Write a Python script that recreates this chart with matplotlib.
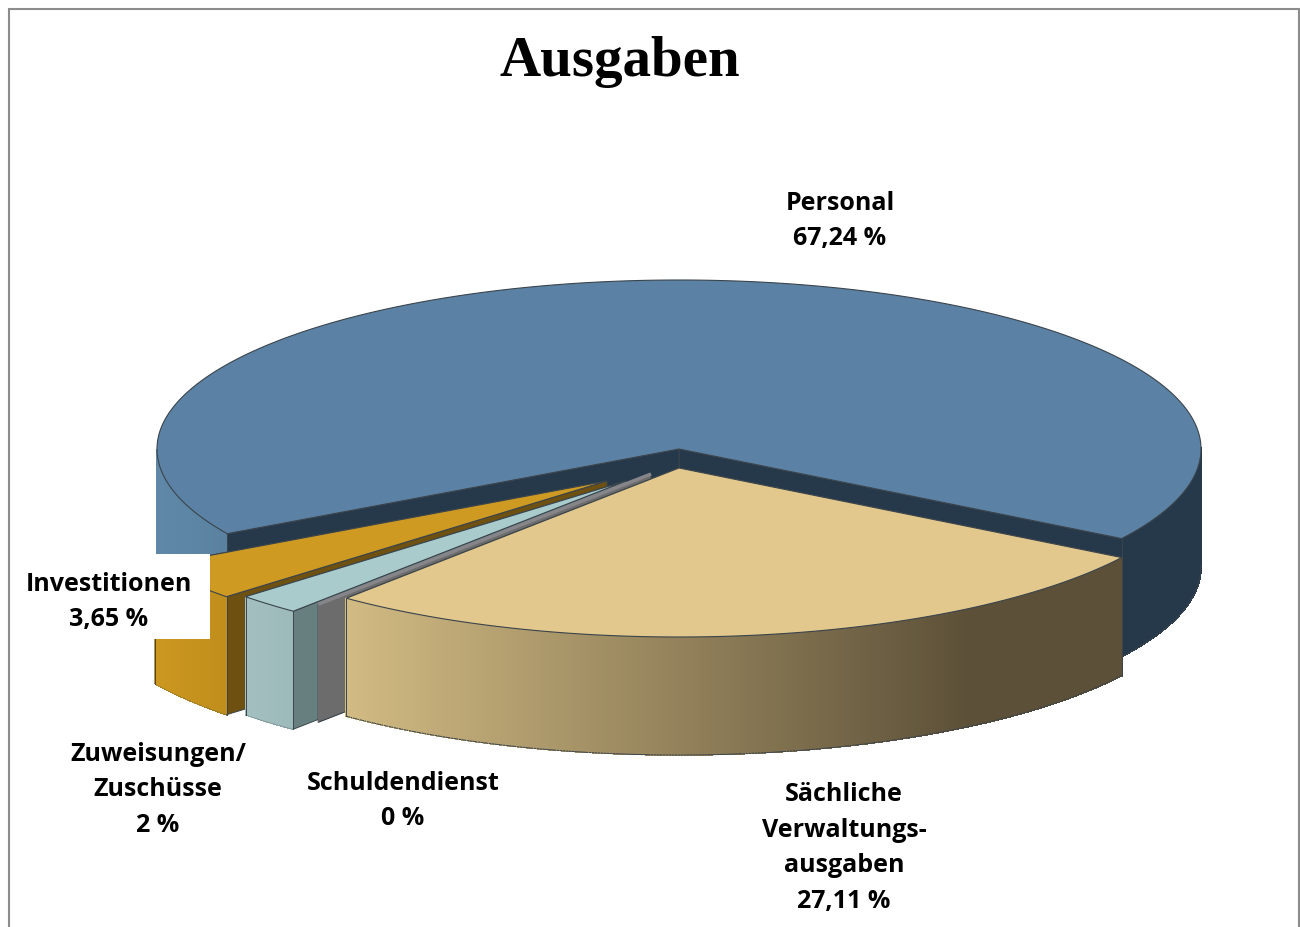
#import
import matplotlib
matplotlib.use("Agg")
import matplotlib.pyplot as plt
import numpy as np
from matplotlib.colors import to_rgb
from matplotlib.patches import Polygon, Rectangle

#data
title = "Ausgaben"
categories = ["Personal", "Investitionen", "Zuweisungen/\nZuschüsse", "Schuldendienst", "Sächliche\nVerwaltungs-\nausgaben"]
values = [67.24, 3.65, 2, 0, 27.11]

#style
start_angle = -32
cx, cy = 679, 450
rx, ry = 522, 169
depth = 118
shift_x = [0, -72, -53, -28, 0]
shift_y = [0, 32, 32, 25, 19]
top_colors = ["#5b82a4", "#cf9a22", "#a9cbcc", "#85858a", "#e2c88c"]
face_colors = ["#26394a", "#6e5010", "#67807f", "#6c6c6c", "#5c5038"]
wall_left = ["#5f88a8", "#cd9820", "#a3bfbf", "#6c6c6c", "#d2bb83"]
wall_right = ["#26394a", "#c08e1c", "#9dbaba", "#6c6c6c", "#5c5038"]
grad_x0 = [157, 153, 246, 317, 346]
grad_x1 = [966, 226, 295, 346, 970]
label_x = [840, 109, 158, 403, 844]
label_y = [221, 602, 790, 801, 848]

def point(x0, y0, a):
    return x0 + rx*np.cos(np.radians(a)), y0 - ry*np.sin(np.radians(a))

def mix(c1, c2, t):
    c1 = np.array(to_rgb(c1))
    c2 = np.array(to_rgb(c2))
    return tuple(c1 + (c2-c1)*t)

def draw_slice(ax, x0, y0, a0, a1, i):
    line = "#3a444c"
    z = 1 + i
    #cut faces
    for a in [a0, a1]:
        x, y = point(x0, y0, a)
        ax.add_patch(Polygon([(x0, y0), (x, y), (x, y+depth), (x0, y0+depth)], closed=True,
                             fc=face_colors[i], ec=line, lw=0.7, zorder=z))
    #outer wall, only the front is seen
    angles = np.linspace(a0, a1, 300)
    for k in range(len(angles)-1):
        m = (angles[k]+angles[k+1])/2
        if np.sin(np.radians(m)) >= 0:
            continue
        x1, y1 = point(x0, y0, angles[k])
        x2, y2 = point(x0, y0, angles[k+1])
        t = np.clip((((x1+x2)/2)-grad_x0[i])/(grad_x1[i]-grad_x0[i]), 0, 1)
        col = mix(wall_left[i], wall_right[i], t)
        ax.add_patch(Polygon([(x1, y1), (x2, y2), (x2, y2+depth), (x1, y1+depth)], closed=True,
                             fc=col, ec=col, lw=0.5, antialiased=False, zorder=z))
        ax.plot([x1, x2], [y1+depth, y2+depth], color=line, lw=0.7, zorder=z)
    if a1 > a0:
        for a in [a0, a1]:
            x, y = point(x0, y0, a)
            if np.sin(np.radians(a)) < 0:
                ax.plot([x, x], [y, y+depth], color=line, lw=0.7, zorder=z)
    #top
    xs, ys = point(x0, y0, angles)
    ax.add_patch(Polygon(np.column_stack([np.r_[x0, xs], np.r_[y0, ys]]), closed=True,
                         fc=top_colors[i], ec=line if a1 > a0 else top_colors[i],
                         lw=0.8 if a1 > a0 else 2.5, zorder=z))

#chart
fig = plt.figure(figsize=(13, 9.28), dpi=100)
ax = fig.add_axes([0, 0, 1, 1])
ax.set_xlim(0, 1300)
ax.set_ylim(928, 0)
ax.axis("off")

ax.add_patch(Rectangle((9, 10), 1290, 930, fc="white", ec="#8c8c8c", lw=1.5, zorder=0))

a = start_angle
for i, v in enumerate(values):
    sweep = v/sum(values)*360
    draw_slice(ax, cx+shift_x[i], cy+shift_y[i], a, a+sweep, i)
    a += sweep

#white box behind the label
ax.add_patch(Rectangle((20, 555), 190, 85, fc="white", ec="none", zorder=10))

ax.text(620, 62, title, fontsize=41, fontweight="bold", family="Liberation Serif", ha="center", va="center", zorder=11)
for i, name in enumerate(categories):
    pct = str(values[i]).replace(".", ",") + " %"
    ax.text(label_x[i], label_y[i], name + "\n" + pct, fontsize=18, fontweight="bold", family="Open Sans",
            ha="center", va="center", linespacing=1.55, zorder=11)

fig.savefig("out.png", dpi=100)
